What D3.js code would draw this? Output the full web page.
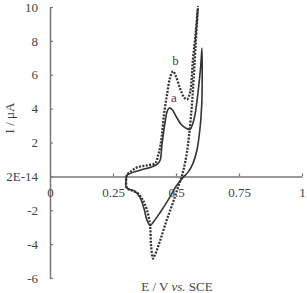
<!DOCTYPE html>
<html>
<head>
<meta charset="utf-8">
<script src="https://cdn.jsdelivr.net/npm/d3@7"></script>
<style>
  body { margin: 0; background: #fff; }
  text { font-family: "Liberation Serif", "Times New Roman", serif; }
</style>
</head>
<body>
<div id="cv_chart"></div>
<script>
// curve a (solid) - closed loop, forward then reverse scan
const aE = [0.302, 0.306, 0.357, 0.397, 0.425, 0.437, 0.444, 0.456, 0.464, 0.472, 0.484, 0.500, 0.520, 0.540, 0.556, 0.565, 0.575, 0.590, 0.598, 0.603,
            0.604, 0.602, 0.595, 0.583, 0.567, 0.548, 0.528, 0.500, 0.468, 0.437, 0.409, 0.397, 0.385, 0.373, 0.357, 0.337, 0.317, 0.302, 0.302];
const aI = [-0.24, 0.06, 0.36, 0.53, 0.71, 0.95, 1.83, 3.14, 3.79, 4.02, 3.96, 3.55, 3.08, 2.84, 2.78, 3.05, 3.60, 5.30, 6.50, 7.57,
            6.00, 4.20, 2.80, 1.54, 0.75, 0.25, -0.06, -0.60, -1.42, -2.13, -2.72, -2.90, -2.60, -1.90, -1.24, -0.89, -0.77, -0.65, -0.24];

// curve b (dotted)
const bE = [0.302, 0.306, 0.317, 0.345, 0.385, 0.417, 0.429, 0.437, 0.444, 0.452, 0.464, 0.476, 0.488, 0.500, 0.516, 0.532, 0.544, 0.556, 0.567, 0.579, 0.587,
            0.579, 0.571, 0.563, 0.552, 0.540, 0.524, 0.504, 0.484, 0.460, 0.437, 0.417, 0.409, 0.401, 0.397, 0.385, 0.369, 0.349, 0.325, 0.306, 0.302];
const bI = [-0.24, 0.12, 0.24, 0.53, 0.65, 0.77, 1.24, 1.72, 2.43, 3.61, 4.79, 5.80, 6.20, 5.90, 5.20, 4.67, 4.55, 4.97, 6.86, 8.64, 10.0,
            8.05, 5.98, 4.20, 2.43, 1.12, 0.06, -0.83, -1.72, -2.72, -3.79, -4.62, -4.85, -4.08, -2.90, -2.00, -1.42, -1.00, -0.83, -0.71, -0.24];

const xTicks = [0, 0.25, 0.5, 0.75, 1];
const xTickLabels = ["0", "0.25", "0.5", "0.75", "1"];
const yTicks = [-6, -4, -2, 0, 2, 4, 6, 8, 10];
const yTickLabels = ["-6", "-4", "-2", "2E-14", "2", "4", "6", "8", "10"];

const curveLabels = ["a", "b"];
const labelE = [0.492, 0.498];
const labelI = [4.4, 6.6];

function main() {
    const width = 307, height = 293;
    const axisColor = "#777", textColor = "#444", lineColor = "#333";

    const svg = d3.select("#cv_chart")
        .append("svg")
        .attr("width", width)
        .attr("height", height);

    const x = d3.scaleLinear().domain([0, 1]).range([50, 302]);
    const y = d3.scaleLinear().domain([-6, 10]).range([278, 7]);

    // y axis (ticks point inward, to the right)
    const yAxis = svg.append("g")
        .attr("transform", `translate(${x(0)}, 0)`)
        .call(d3.axisLeft(y)
            .tickValues(yTicks)
            .tickFormat((d, i) => yTickLabels[i])
            .tickSizeInner(-3)
            .tickSizeOuter(0)
            .tickPadding(12));

    // x axis sits on I = 0
    const xAxis = svg.append("g")
        .attr("transform", `translate(0, ${y(0)})`)
        .call(d3.axisBottom(x)
            .tickValues(xTicks)
            .tickFormat((d, i) => xTickLabels[i])
            .tickSizeInner(-3)
            .tickSizeOuter(0)
            .tickPadding(11));

    [xAxis, yAxis].forEach(g => {
        g.select(".domain").attr("stroke", axisColor).attr("stroke-width", 1.5);
        g.selectAll(".tick line").attr("stroke", axisColor).attr("stroke-width", 1.2);
        g.selectAll(".tick text")
            .attr("fill", textColor)
            .style("font-size", "13px")
            .attr("font-family", "Liberation Serif, serif");
    });

    const line = d3.line()
        .x(d => x(d[0]))
        .y(d => y(d[1]))
        .curve(d3.curveCatmullRom.alpha(0.5));

    // curve b - dotted
    svg.append("path")
        .datum(d3.zip(bE, bI))
        .attr("fill", "none")
        .attr("stroke", lineColor)
        .attr("stroke-width", 2.3)
        .attr("stroke-dasharray", "2,1.4")
        .attr("d", line);

    // curve a - solid
    svg.append("path")
        .datum(d3.zip(aE, aI))
        .attr("fill", "none")
        .attr("stroke", lineColor)
        .attr("stroke-width", 1.6)
        .attr("d", line);

    // curve labels
    svg.selectAll(".curve-label")
        .data(curveLabels)
        .enter()
        .append("text")
        .attr("class", "curve-label")
        .attr("x", (d, i) => x(labelE[i]))
        .attr("y", (d, i) => y(labelI[i]))
        .attr("text-anchor", "middle")
        .attr("fill", textColor)
        .style("font-size", "13px")
        .text(d => d);

    // axis titles
    svg.append("text")
        .attr("transform", "translate(14, 118) rotate(-90)")
        .attr("text-anchor", "middle")
        .attr("fill", textColor)
        .style("font-size", "13px")
        .text("I / μA");

    const xTitle = svg.append("text")
        .attr("x", 177)
        .attr("y", 291)
        .attr("text-anchor", "middle")
        .attr("fill", textColor)
        .style("font-size", "13px");
    xTitle.append("tspan").text("E / V ");
    xTitle.append("tspan").attr("font-style", "italic").text("vs.");
    xTitle.append("tspan").text(" SCE");
}

main()
</script>
</body>
</html>
